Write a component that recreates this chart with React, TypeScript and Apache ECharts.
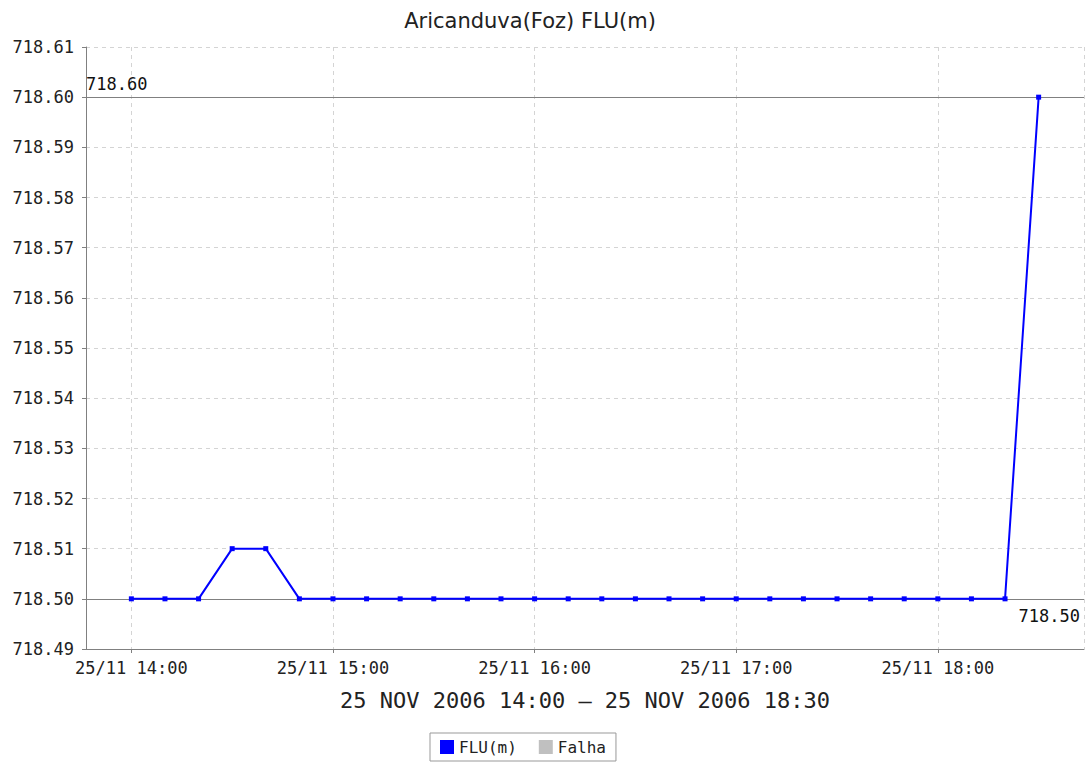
import React, { useEffect, useRef } from "react";
import * as echarts from "echarts";

const title = "Aricanduva(Foz) FLU(m)";
const xAxisName = "25 NOV 2006 14:00 \u2013 25 NOV 2006 18:30";
const times = [
  "14:00", "14:10", "14:20", "14:30", "14:40", "14:50",
  "15:00", "15:10", "15:20", "15:30", "15:40", "15:50",
  "16:00", "16:10", "16:20", "16:30", "16:40", "16:50",
  "17:00", "17:10", "17:20", "17:30", "17:40", "17:50",
  "18:00", "18:10", "18:20", "18:30",
];
const fluValues = [
  718.5, 718.5, 718.5, 718.51, 718.51, 718.5,
  718.5, 718.5, 718.5, 718.5, 718.5, 718.5,
  718.5, 718.5, 718.5, 718.5, 718.5, 718.5,
  718.5, 718.5, 718.5, 718.5, 718.5, 718.5,
  718.5, 718.5, 718.5, 718.6,
];
const markerValues = [718.6, 718.5];
const axisStart = "13:46:30";
const axisEnd = "18:43:30";
const yMin = 718.49;
const yMax = 718.61;
const yStep = 0.01;

function toMs(t: string): number {
  const [h, m, s] = t.split(":").map(Number);
  return new Date(2006, 10, 25, h, m, s || 0).getTime();
}

const mono = "'DejaVu Sans Mono', monospace";

export default function App() {
  const ref = useRef<HTMLDivElement>(null);
  useEffect(() => {
    if (!ref.current) return;
    const chart = echarts.init(ref.current, undefined, { renderer: "svg" });
    const pad = (n: number) => (n < 10 ? "0" + n : "" + n);
    chart.setOption({
      animation: false,
      backgroundColor: "#ffffff",
      title: {
        text: title,
        left: 525,
        top: 5,
        textAlign: "center",
        textStyle: {
          fontFamily: "'DejaVu Sans', sans-serif",
          fontSize: 21,
          fontWeight: "normal",
          color: "#222",
        },
      },
      legend: {
        left: 430,
        top: 733,
        borderColor: "#999",
        borderWidth: 1,
        padding: [6, 10],
        itemWidth: 14,
        itemHeight: 14,
        itemGap: 22,
        textStyle: { fontFamily: mono, fontSize: 16, color: "#222" },
        data: [
          { name: "FLU(m)", icon: "rect", itemStyle: { color: "#0000ff" } },
          { name: "Falha", icon: "rect", itemStyle: { color: "#c0c0c0" } },
        ],
      },
      grid: { left: 86, right: 6, top: 47, bottom: 117, containLabel: false },
      xAxis: {
        type: "time",
        min: toMs(axisStart),
        max: toMs(axisEnd),
        minInterval: 3600000,
        maxInterval: 3600000,
        name: xAxisName,
        nameLocation: "middle",
        nameGap: 40,
        nameTextStyle: { fontFamily: mono, fontSize: 22, color: "#222" },
        axisLine: { show: true, lineStyle: { color: "#808080", width: 1 } },
        axisTick: { show: true, length: 4, lineStyle: { color: "#808080" } },
        axisLabel: {
          fontFamily: mono,
          fontSize: 17,
          color: "#222",
          margin: 10,
          showMinLabel: false,
          showMaxLabel: false,
          formatter: (v: number) => {
            const d = new Date(v);
            return pad(d.getDate()) + "/" + pad(d.getMonth() + 1) + " " + pad(d.getHours()) + ":" + pad(d.getMinutes());
          },
        },
        splitLine: { show: true, lineStyle: { color: "#d4d4d4", type: [4, 4], width: 1 } },
        minorTick: { show: false },
      },
      yAxis: {
        type: "value",
        min: yMin,
        max: yMax,
        interval: yStep,
        axisLine: { show: true, lineStyle: { color: "#808080", width: 1 } },
        axisTick: { show: true, length: 4, lineStyle: { color: "#808080" } },
        axisLabel: {
          fontFamily: mono,
          fontSize: 17,
          color: "#222",
          margin: 12,
          formatter: (v: number) => v.toFixed(2),
        },
        splitLine: { show: true, lineStyle: { color: "#d4d4d4", type: [4, 4], width: 1 } },
      },
      series: [
        {
          name: "FLU(m)",
          type: "line",
          data: times.map((t, i) => [toMs(t), fluValues[i]]),
          symbol: "rect",
          symbolSize: 5,
          showAllSymbol: true,
          lineStyle: { color: "#0000ff", width: 2 },
          itemStyle: { color: "#0000ff" },
          z: 5,
          markLine: {
            silent: true,
            symbol: "none",
            lineStyle: { color: "#808080", type: "solid", width: 1 },
            data: [
              {
                yAxis: markerValues[0],
                label: {
                  position: "insideStartTop",
                  formatter: markerValues[0].toFixed(2),
                  fontFamily: mono,
                  fontSize: 17,
                  color: "#111",
                  distance: [0, 5],
                },
              },
              {
                yAxis: markerValues[1],
                label: {
                  position: "insideEndBottom",
                  formatter: markerValues[1].toFixed(2),
                  fontFamily: mono,
                  fontSize: 17,
                  color: "#111",
                  distance: [4, 9],
                },
              },
            ],
          },
        },
        {
          name: "Falha",
          type: "line",
          data: [],
          itemStyle: { color: "#c0c0c0" },
        },
      ],
    });
    return () => chart.dispose();
  }, []);
  return (
    <div
      ref={ref}
      style={{ position: "fixed", left: 0, top: 0, width: 1090, height: 766 }}
    />
  );
}
